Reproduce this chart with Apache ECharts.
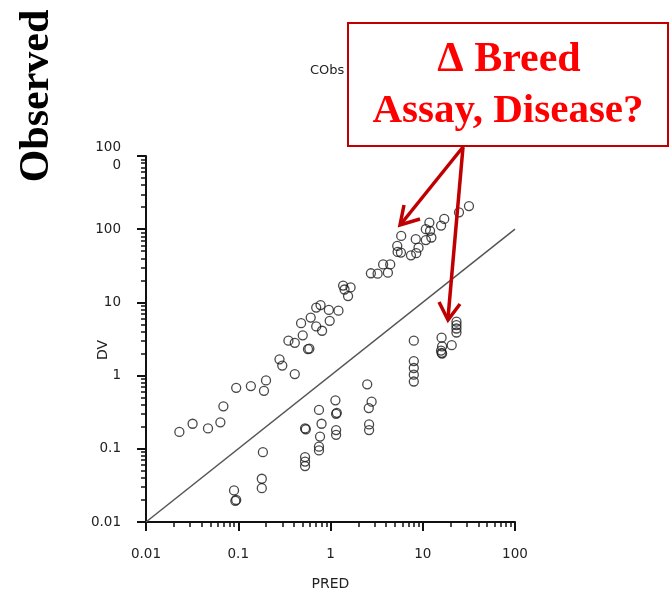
<!DOCTYPE html>
<html><head><meta charset="utf-8">
<script src="https://cdn.jsdelivr.net/npm/echarts@6/dist/echarts.min.js"></script>
<style>html,body{margin:0;padding:0;background:#fff}#c{width:672px;height:596px}</style>
</head><body><div id="c"></div>
<script>
// Observations above the identity line (PRED, DV)
const upperPred = [0.023,0.032,0.047,0.064,0.069,0.095,0.137,0.19,0.20,0.28,0.30,0.41,0.35,0.41,0.57,0.59,0.48,0.50,0.61,0.70,0.78,0.70,0.81,0.96,0.98,1.22,1.37,1.42,1.65,1.55,2.74,3.24,3.72,4.44,4.19,5.29,5.34,5.8,5.84,7.45,8.4,9.0,8.5,10.8,10.8,12,11.8,12.4,15.8,17.1,24.7,31.7];
const upperDV   = [0.17,0.22,0.19,0.23,0.38,0.68,0.72,0.62,0.86,1.67,1.37,1.05,3.0,2.8,2.3,2.33,5.2,3.55,6.2,8.5,9.2,4.7,4.1,7.9,5.6,7.7,17,15,16,12.2,25,24.7,33,33,25.5,59,49,48,81,44,73,56,47,100,71,95,123,77,112,138,170,207];
// Observations below the identity line (PRED, DV)
const lowerPred = [0.185,0.18,0.18,0.09,0.095,0.093,0.53,0.54,0.75,0.80,0.77,0.75,0.75,0.53,0.53,0.53,1.13,1.17,1.15,1.15,1.15,2.5,2.79,2.6,2.62,2.62,8.0,8.0,8.0,8.0,8.0,16,16.2,15.8,16,16.2,20.6,23.2,23.2,23.2,23.2];
const lowerDV   = [0.09,0.039,0.029,0.027,0.02,0.0195,0.19,0.185,0.34,0.22,0.147,0.107,0.095,0.077,0.067,0.058,0.46,0.31,0.30,0.18,0.155,0.76,0.44,0.36,0.215,0.18,3.0,1.58,1.27,1.03,0.83,3.3,2.5,2.2,2.05,2.0,2.6,5.45,4.9,4.4,3.88];
// identity line endpoints
const identityLine = [0.01, 100];
// tick values
const xMajorTicks = [0.01, 0.1, 1, 10, 100];
const yMajorTicks = [0.01, 0.1, 1, 10, 100, 1000];
const minorMultipliers = [2,3,4,5,6,7,8,9];

function minorTicks(majors){
  const out = [];
  for (let i = 0; i < majors.length - 1; i++) {
    minorMultipliers.forEach(m => out.push(+(majors[i]*m).toPrecision(6)));
  }
  return out;
}
const zip = (a, b) => a.map((v, i) => [v, b[i]]);

const labelFont = 'DejaVu Sans';
const txtColor = '#222';
const axisColor = '#111';

const chart = echarts.init(document.getElementById('c'), null, {renderer: 'canvas'});
const circle = {
  type: 'scatter', symbol: 'circle', symbolSize: 9,
  itemStyle: {color: 'rgba(0,0,0,0)', borderColor: '#1a1a1a', borderWidth: 1.3},
  emphasis: {disabled: true}, silent: true
};
chart.setOption({
  animation: false,
  backgroundColor: '#fff',
  title: {text: 'CObs', left: 310, top: 64, padding: 0,
    textStyle: {fontSize: 13, fontWeight: 'normal', color: txtColor, fontFamily: labelFont}},
  grid: {left: 146, right: 157, top: 156, bottom: 74, containLabel: false},
  xAxis: [
    {type: 'log', logBase: 10, min: 0.01, max: 100, position: 'bottom',
      axisLine: {show: true, lineStyle: {color: axisColor, width: 2}},
      axisTick: {show: true, customValues: minorTicks(xMajorTicks), length: 5, lineStyle: {color: axisColor, width: 1.5}},
      axisLabel: {show: false}, splitLine: {show: false}, minorTick: {show: false}},
    {type: 'log', logBase: 10, min: 0.01, max: 100, position: 'bottom',
      axisLine: {show: false},
      axisTick: {show: true, customValues: xMajorTicks, length: 9, lineStyle: {color: axisColor, width: 2}},
      axisLabel: {customValues: xMajorTicks, margin: 25, fontSize: 13.5, color: txtColor, fontFamily: labelFont,
        formatter: v => String(v)},
      splitLine: {show: false},
      name: 'PRED', nameLocation: 'middle', nameGap: 55, nameMoveOverlap: false,
      nameTextStyle: {fontSize: 14, color: txtColor, fontFamily: labelFont}}
  ],
  yAxis: [
    {type: 'log', logBase: 10, min: 0.01, max: 1000, position: 'left',
      axisLine: {show: true, lineStyle: {color: axisColor, width: 2}},
      axisTick: {show: true, customValues: minorTicks(yMajorTicks), length: 5, lineStyle: {color: axisColor, width: 1.5}},
      axisLabel: {show: false}, splitLine: {show: false}},
    {type: 'log', logBase: 10, min: 0.01, max: 1000, position: 'left',
      axisLine: {show: false},
      axisTick: {show: true, customValues: yMajorTicks, length: 9, lineStyle: {color: axisColor, width: 2}},
      axisLabel: {customValues: yMajorTicks, margin: 25, fontSize: 13.5, color: txtColor, fontFamily: labelFont,
        lineHeight: 18, formatter: v => (v === 1000 ? '100\n0' : String(v))},
      splitLine: {show: false},
      name: 'DV', nameLocation: 'middle', nameGap: 36, nameMoveOverlap: false,
      nameTextStyle: {fontSize: 14, color: txtColor, fontFamily: labelFont, padding: [0, 22, 0, 0]}}
  ],
  series: [
    {type: 'line', data: zip(identityLine, identityLine), symbol: 'none', silent: true,
      lineStyle: {color: '#555', width: 1.5}, z: 1},
    Object.assign({name: 'above', data: zip(upperPred, upperDV), z: 2}, circle),
    Object.assign({name: 'below', data: zip(lowerPred, lowerDV), z: 2}, circle)
  ],
  graphic: [
    {type: 'text', x: 37, y: 96, rotation: Math.PI / 2, z: 100,
      style: {text: 'Observed', font: 'bold 42px "Liberation Serif"', fill: '#000',
        align: 'center', verticalAlign: 'middle', textAlign: 'center', textVerticalAlign: 'middle'}},
    {type: 'rect', z: 100, shape: {x: 348, y: 23, width: 320, height: 123},
      style: {fill: '#fff', stroke: '#c00000', lineWidth: 2}},
    {type: 'text', z: 101, x: 509, y: 60,
      style: {text: '\u0394 Breed', font: 'bold 42px "Liberation Serif"', fill: '#ff0000',
        align: 'center', verticalAlign: 'middle', textAlign: 'center', textVerticalAlign: 'middle'}},
    {type: 'text', z: 101, x: 508, y: 111,
      style: {text: 'Assay, Disease?', font: 'bold 41px "Liberation Serif"', fill: '#ff0000',
        align: 'center', verticalAlign: 'middle', textAlign: 'center', textVerticalAlign: 'middle'}},
    {type: 'line', z: 100, shape: {x1: 463, y1: 147, x2: 401, y2: 224},
      style: {stroke: '#c00000', lineWidth: 3.5}},
    {type: 'polyline', z: 100, shape: {points: [[404, 205], [400, 225], [420, 219]]},
      style: {stroke: '#c00000', lineWidth: 3.5, fill: null}},
    {type: 'line', z: 100, shape: {x1: 463, y1: 147, x2: 448, y2: 318},
      style: {stroke: '#c00000', lineWidth: 3.5}},
    {type: 'polyline', z: 100, shape: {points: [[439, 302], [448, 320], [460, 304]]},
      style: {stroke: '#c00000', lineWidth: 3.5, fill: null}}
  ]
});
</script>
</body></html>
